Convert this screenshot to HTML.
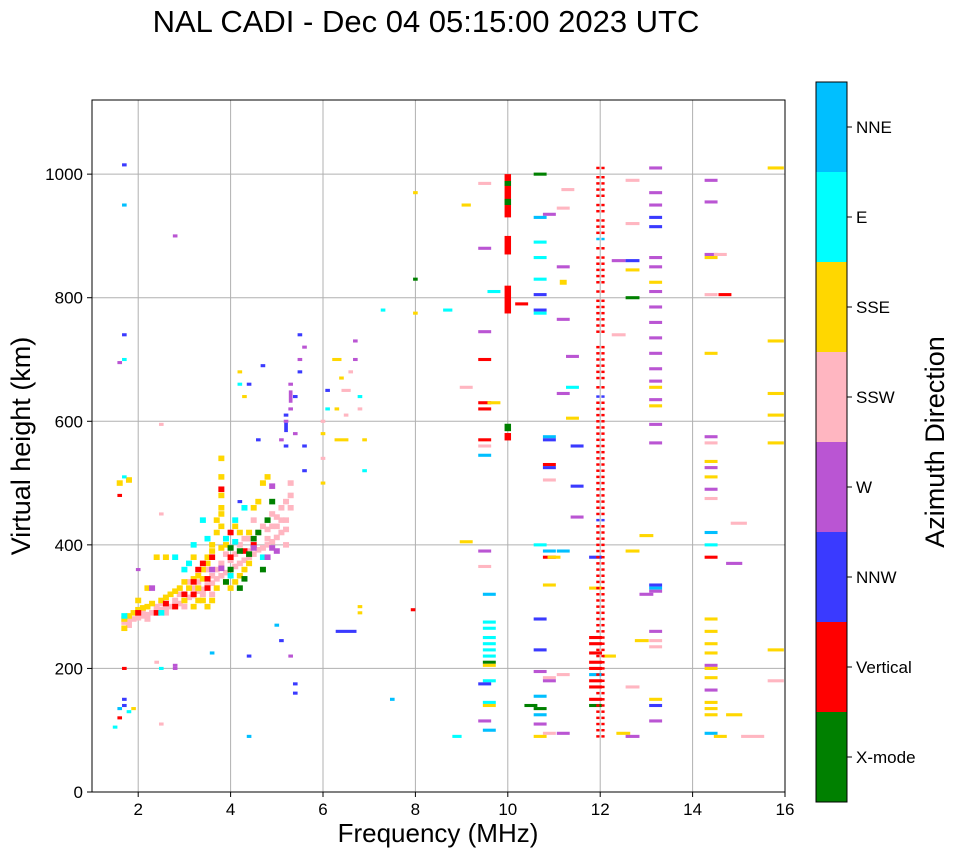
<!DOCTYPE html>
<html><head><meta charset="utf-8"><style>
body{margin:0;background:#fff;width:958px;height:857px;overflow:hidden;font-family:"Liberation Sans",sans-serif}
svg text{font-family:"Liberation Sans",sans-serif}
</style></head><body>
<svg id="chart" width="958" height="857" xmlns="http://www.w3.org/2000/svg">
<text x="426" y="32" font-size="31" text-anchor="middle">NAL CADI - Dec 04 05:15:00 2023 UTC</text>
<g id="grid"></g>
<g id="marks"></g>
<rect x="92" y="100" width="693" height="692" fill="none" stroke="#000" stroke-width="1"/>
<g id="ticks"></g>
<text x="438" y="842" font-size="26" text-anchor="middle">Frequency (MHz)</text>
<text transform="translate(30,446) rotate(-90)" font-size="27" text-anchor="middle">Virtual height (km)</text>
<g id="cbar"></g>
<text transform="translate(944,442) rotate(-90)" font-size="27" text-anchor="middle">Azimuth Direction</text>
</svg>
<script>
const directions=["X-mode","Vertical","NNW","W","SSW","SSE","E","NNE"];
const dirColors=["#008000","#ff0000","#3a3aff","#ba55d3","#ffb6c1","#ffd700","#00ffff","#00bfff"];
const xTicks=[2,4,6,8,10,12,14,16];
const yTicks=[0,200,400,600,800,1000];
// dense F-layer trace: [freq MHz, height km, direction index]
const cluster=[
[1.7,275,4],[1.9,280,4],[2.1,285,4],[2.3,290,4],[2.5,295,4],[2.7,300,4],[2.9,305,4],[3.1,315,4],[3.3,325,4],[3.5,335,4],[3.7,345,4],[3.9,355,4],[4.1,365,4],[4.3,375,4],[4.5,385,4],[4.7,395,4],[4.9,405,4],[5.1,420,4],[5.2,440,4],[5.3,460,4],[5.3,480,4],
[2.0,290,4],[2.4,300,4],[2.8,310,4],[3.2,330,4],[3.6,350,4],[4.0,375,4],[4.4,390,4],[4.8,410,4],[5.0,430,4],[5.2,400,4],[4.6,420,4],[4.2,400,4],[3.8,370,4],[1.8,270,4],[2.2,280,4],[2.6,290,4],[3.0,300,4],[3.4,320,4],[4.5,440,4],[4.9,450,4],[5.1,460,4],[4.0,395,4],[3.6,320,4],
[1.8,278,4],[2.0,282,4],[2.2,287,4],[2.4,292,4],[2.6,298,4],[2.8,303,4],[3.0,310,4],[3.2,318,4],[3.4,328,4],[3.6,338,4],[3.8,350,4],[4.0,360,4],[4.2,370,4],[4.4,380,4],[4.6,392,4],[4.8,400,4],[5.0,412,4],[5.2,425,4],[5.0,445,4],[4.7,430,4],[4.3,410,4],[3.9,385,4],[3.5,360,4],[3.1,340,4],[2.7,320,4],[5.3,500,4],[5.2,470,4],[4.9,430,4],[4.4,410,4],[4.1,385,4],[3.7,360,4],[3.3,340,4],[2.9,320,4],[2.5,305,4],[2.1,293,4],[5.1,440,4],[4.8,425,4],
[1.7,265,5],[1.8,285,5],[2.0,295,5],[2.2,300,5],[2.5,310,5],[2.7,320,5],[2.9,330,5],[3.0,340,5],[3.2,300,5],[3.4,310,5],[3.3,350,5],[3.5,370,5],[3.6,390,5],[3.7,420,5],[3.8,450,5],[3.8,480,5],[3.8,510,5],[3.8,540,5],[4.0,330,5],[4.2,350,5],[4.2,420,5],[4.5,460,5],[4.7,500,5],[2.4,380,5],[2.6,380,5],[3.5,300,5],[4.4,370,5],[2.2,330,5],[1.6,500,5],[1.8,505,5],[3.1,330,5],[3.4,345,5],[3.7,330,5],[3.9,400,5],
[1.9,290,5],[2.1,298,5],[2.3,305,5],[2.6,315,5],[2.8,325,5],[3.0,310,5],[3.2,345,5],[3.3,310,5],[3.4,360,5],[3.5,380,5],[3.6,400,5],[3.7,440,5],[3.8,430,5],[3.8,460,5],[3.9,340,5],[4.1,340,5],[4.1,430,5],[4.3,360,5],[4.4,420,5],[4.6,470,5],[4.8,510,5],[3.6,310,5],[1.7,280,5],[2.0,310,5],[3.2,380,5],[3.3,330,5],[3.8,395,5],
[2.0,290,1],[2.4,290,1],[2.8,300,1],[3.2,320,1],[3.3,360,1],[3.5,330,1],[3.6,380,1],[4.0,380,1],[4.0,420,1],[4.5,400,1],[3.0,320,1],[3.4,370,1],[3.2,340,1],[2.6,305,1],[3.8,490,1],[3.5,345,1],[4.3,390,1],
[4.0,360,0],[4.2,390,0],[4.4,385,0],[4.3,345,0],[4.6,420,0],[4.8,440,0],[4.9,470,0],[4.7,360,0],[3.9,340,0],[4.2,330,0],[4.0,395,0],[4.5,410,0],
[1.7,285,6],[2.5,290,6],[3.0,360,6],[3.2,400,6],[3.4,440,6],[3.5,410,6],[4.1,440,6],[4.3,460,6],[2.8,380,6],[4.0,350,6],[4.7,380,6],[3.1,370,6],[3.9,410,6],[4.1,405,6],
[3.6,360,3],[4.8,380,3],[5.0,390,3],[2.3,330,3],[4.9,495,3],[3.8,362,3],[4.5,395,3],[4.9,395,3]
];
// scattered echoes: [freq MHz, height km, direction index, width MHz, thickness km]
const echoes=[
[1.6,480,1],[1.7,200,1],[1.6,120,1],[1.7,510,6],[1.7,950,7],[2.0,360,3],[2.8,205,3],
[5.2,600,3],[5.3,620,3],[5.3,660,3],[5.1,570,3],[5.5,700,3],[5.6,720,3],[5.4,580,3],[5.3,640,3,0.08,20],
[5.2,610,2],[5.2,560,2],[5.4,640,2],[5.5,680,2],[5.5,740,2],[4.7,690,2],[4.6,570,2],[5.6,560,2],[5.6,520,2],[4.4,660,2],[4.2,470,2],[5.2,590,2,0.08,15],
[6.0,500,5],[6.0,540,4],[6.0,580,5],[6.1,620,6],[6.1,650,2],[6.0,600,4],[6.3,700,5,0.2],[6.4,670,5],[6.5,650,4,0.2],[6.5,610,4],[6.6,680,4],[6.7,700,3],[6.7,730,3],[6.8,640,6],[6.8,620,4],[6.9,570,5],[6.9,520,6],[6.4,570,5,0.3],[6.3,620,5],[4.2,680,5],[4.2,660,6],[4.3,640,5],
[1.5,105,6],[1.6,135,7],[1.7,150,2],[1.7,140,2],[1.8,130,6],[1.9,135,5],[2.4,210,4],[2.5,200,6],[2.8,200,3],[3.6,225,7],[4.4,90,7],[4.4,220,2],[5.0,270,7],[5.1,245,2],[5.3,220,3],[5.4,175,2],[5.4,160,2],[6.5,260,2,0.45],[6.8,290,5],[6.8,300,5],[7.5,150,7],[7.95,295,1],[8.9,90,6,0.2],[7.3,780,6],[8.0,830,0],[8.0,970,5],[8.0,775,5],[8.7,780,6,0.2],[9.1,950,5,0.2],[2.8,900,3],[1.7,1015,2],[1.7,740,2],[1.7,700,6],[1.6,695,3],[2.5,595,4],[2.5,450,4],[2.5,110,4],
[9.5,985,4],[9.5,880,3],[9.7,810,6],[9.5,745,3],[9.5,700,1],[9.1,655,4],[9.5,630,1],[9.5,620,1],[9.7,630,5],[9.5,570,1],[9.5,560,4],[9.5,545,7],[9.1,405,5],[9.5,390,3],[9.5,365,4],[9.6,320,7],[9.6,275,6],[9.6,265,6],[9.6,250,6],[9.6,240,6],[9.6,230,6],[9.6,220,6],[9.6,210,0],[9.6,205,5],[9.6,180,6],[9.5,175,2],[9.6,145,6],[9.6,140,5],[9.5,115,3],[9.6,100,7],
[10.0,965,1,0.14,70],[10.0,955,0,0.14,10],[10.0,985,0,0.14,8],[10.0,885,1,0.14,30],[10.0,797,1,0.14,45],[10.0,590,0,0.14,12],[10.0,575,1,0.14,12],
[10.7,1000,0],[10.9,935,3],[10.7,930,7],[10.7,890,6],[10.7,865,6],[10.7,830,6],[10.7,805,2],[10.7,780,2],[10.7,775,6],[11.2,850,3],[11.2,825,5,0.15,8],[11.3,975,4],[11.2,945,4],[11.2,765,3],[11.4,705,3],[11.4,655,6],[11.4,605,5],[10.9,575,7],[10.9,570,2],[10.9,530,1],[10.9,525,2],[10.9,505,4],[11.5,560,2],[11.2,645,3],[11.5,495,2],[11.5,445,3],[10.7,400,6],[10.9,390,7],[10.9,380,1],[11.0,380,5],[11.2,390,7],[10.9,335,5],[10.7,280,2],[10.7,230,2],[10.7,195,3],[10.9,185,4],[10.9,180,3],[11.2,190,4],[10.7,155,7],[10.5,140,0],[10.7,135,0],[10.7,125,7],[10.7,110,3],[10.9,95,4],[10.7,90,5],[11.2,95,3],[10.3,790,1],
[11.9,380,2],[11.9,330,5],[11.9,210,1],[11.9,200,1],[11.9,180,1],[11.9,170,1],[11.9,150,1],[11.9,140,0],[11.9,250,1],[11.9,240,1],[11.9,225,1],[11.9,190,7],[12.2,220,5],[12.4,860,3,0.3],[12.4,740,4,0.3],[12.5,95,5,0.3],[12.7,990,4,0.3],[12.7,920,4,0.3],[12.7,860,2,0.3],[12.7,845,5,0.3],[12.7,800,0,0.3],[12.7,390,5,0.3],[12.7,170,4,0.3],[12.7,90,3,0.3],[13.0,415,5,0.3],[12.9,245,5,0.3],[13.0,320,3,0.3],
[13.2,1010,3],[13.2,970,3],[13.2,950,3],[13.2,930,2],[13.2,915,2],[13.2,865,3],[13.2,850,3],[13.2,825,5],[13.2,810,3],[13.2,785,3],[13.2,760,3],[13.2,735,3],[13.2,710,3],[13.2,685,3],[13.2,665,3],[13.2,655,5],[13.2,635,3],[13.2,625,5],[13.2,595,3],[13.2,565,3],[13.2,335,2],[13.2,330,7],[13.2,325,3],[13.2,260,3],[13.2,245,4],[13.2,235,4],[13.2,150,5],[13.2,140,2],[13.2,115,3],
[14.4,990,3],[14.4,955,3],[14.4,870,3],[14.4,865,5],[14.6,870,4],[14.4,805,4],[14.7,805,1],[14.4,710,5],[14.4,575,3],[14.4,565,4],[14.4,535,5],[14.4,525,3],[14.4,510,5],[14.4,490,3],[14.4,475,4],[14.4,420,7],[14.4,400,6],[14.4,380,1],[15.0,435,4,0.35],[14.9,370,3,0.35],[14.4,280,5],[14.4,260,5],[14.4,240,5],[14.4,225,5],[14.4,205,3],[14.4,200,5],[14.4,185,5],[14.4,165,3],[14.4,145,5],[14.4,135,5],[14.4,125,5],[14.4,95,7],[14.6,90,5],[14.9,125,5,0.35],[15.3,90,4,0.5],[15.8,1010,5,0.35],[15.8,730,5,0.35],[15.8,645,5,0.35],[15.8,610,5,0.35],[15.8,565,5,0.35],[15.8,230,5,0.35],[15.8,180,4,0.35]
];
const col12Heights=[1010,995,985,975,965,950,940,925,915,905,895,880,865,855,845,835,825,810,795,785,775,765,755,745,720,710,700,690,680,670,655,640,630,620,610,600,590,580,570,560,550,540,530,520,510,500,490,480,470,460,450,440,430,420,410,400,390,380,370,360,350,340,330,320,310,300,290,280,270,260,250,240,230,220,210,200,190,180,170,160,150,140,130,120,110,100,90];
const col12Colors="1111111111711111111111111111111211111111111111111112111111111111111111111111111101111111";

const X0=92,X1=785,Y0=792,Y1=100,FMIN=1,FMAX=16,HMIN=0,HMAX=1120;
const xs=f=>X0+(f-FMIN)/(FMAX-FMIN)*(X1-X0);
const ys=h=>Y0-(h-HMIN)/(HMAX-HMIN)*(Y0-Y1);
const NS="http://www.w3.org/2000/svg";
function mk(tag,attrs,parent){const e=document.createElementNS(NS,tag);for(const k in attrs)e.setAttribute(k,attrs[k]);parent.appendChild(e);return e;}
const grid=document.getElementById('grid'),ticks=document.getElementById('ticks'),marks=document.getElementById('marks'),cbar=document.getElementById('cbar');
xTicks.forEach(t=>{const x=xs(t);
 const g=mk('line',{x1:x,x2:x,y1:Y1,y2:Y0,stroke:'#b0b0b0','stroke-width':1},grid);
 
 
 mk('line',{x1:x,x2:x,y1:Y0,y2:Y0+5,stroke:'#000'},ticks);
 const l=mk('text',{x:x,y:Y0+23,'font-size':17,'text-anchor':'middle'},ticks);l.textContent=t;
 
 
});
yTicks.forEach(t=>{const y=ys(t);
 const g=mk('line',{x1:X0,x2:X1,y1:y,y2:y,stroke:'#b0b0b0','stroke-width':1},grid);
 
 
 mk('line',{x1:X0-5,x2:X0,y1:y,y2:y,stroke:'#000'},ticks);
 const l=mk('text',{x:X0-9,y:y+6,'font-size':17,'text-anchor':'end'},ticks);l.textContent=t;
 
 
});
function drawMark(f,h,c,w,th){w=w||0.1;th=th||5;
 const r=mk('rect',{x:xs(f-w/2),y:ys(h+th/2),width:xs(f+w/2)-xs(f-w/2),height:ys(h-th/2)-ys(h+th/2),fill:dirColors[c]},marks);
 
 
}
cluster.forEach(e=>drawMark(e[0],e[1],e[2],0.13,9));
echoes.forEach(e=>drawMark(e[0],e[1],e[2],e[3]||(e[0]>=9?0.28:0.1),e[4]));
col12Heights.forEach((h,i)=>{const c=+col12Colors[i]||1;drawMark(11.95,h,c,0.07,4);drawMark(12.06,h,c,0.07,4);});
const CB0=802,CBH=90;
directions.forEach((d,i)=>{const y=CB0-(i+1)*CBH;
 const r=mk('rect',{x:816,y:y,width:31,height:CBH,fill:dirColors[i]},cbar);
 
 
 mk('line',{x1:847,x2:852,y1:y+CBH/2,y2:y+CBH/2,stroke:'#000'},cbar);
 const l=mk('text',{x:856,y:y+CBH/2+6,'font-size':17},cbar);l.textContent=d;
 
 
});
mk('rect',{x:816,y:82,width:31,height:720,fill:'none',stroke:'#000','stroke-width':1},cbar);
</script>
</body></html>
